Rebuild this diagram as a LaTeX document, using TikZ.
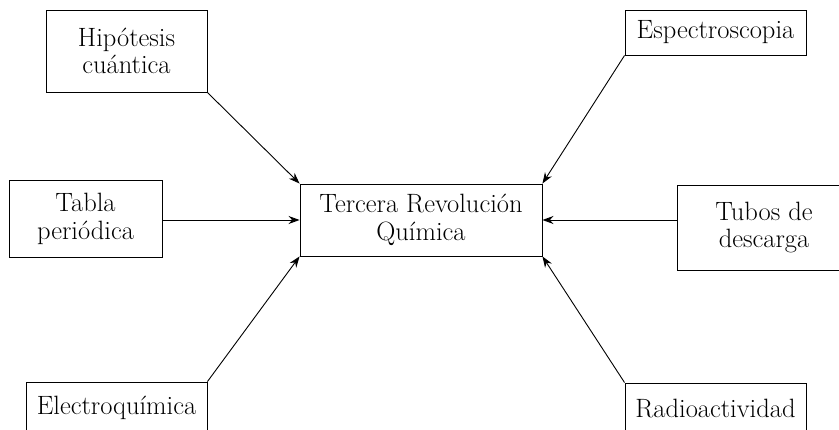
\documentclass[tikz,border=0pt]{standalone}
\usepackage{fontspec}
\usetikzlibrary{arrows.meta}
\begin{document}
\begin{tikzpicture}[x=1pt,y=-1pt,
  box/.style={draw,line width=0.9pt,rectangle,inner sep=0pt,align=center,
    font=\fontsize{26.5}{27.5}\selectfont},
  link/.style={line width=0.9pt,-{Stealth[length=11pt,width=8pt]}}]
\clip (0,0) rectangle (839,430);
\node[box,minimum width=161pt,minimum height=82pt] (hip) at (126.5,51) {Hipótesis\\cuántica};
\node[box,minimum width=181pt,minimum height=45pt] (esp) at (715.5,32.5) {Espectroscopia};
\node[box,minimum width=153pt,minimum height=77pt] (tab) at (85.5,219) {Tabla\\periódica};
\node[box,minimum width=242pt,minimum height=72pt] (c) at (421,220) {Tercera Revolución\\Química};
\node[box,minimum width=174pt,minimum height=85pt] (tub) at (764,227.5) {Tubos de\\descarga};
\node[box,minimum width=181pt,minimum height=52pt] (ele) at (116.5,408) {Electroquímica};
\node[box,minimum width=181pt,minimum height=52pt] (rad) at (715.5,409) {Radioactividad};
\draw[link] (hip.south east) -- (c.north west);
\draw[link] (tab.east |- c.west) -- (c.west);
\draw[link] (ele.north east) -- (c.south west);
\draw[link] (esp.south west) -- (c.north east);
\draw[link] (tub.west |- c.east) -- (c.east);
\draw[link] (rad.north west) -- (c.south east);
\end{tikzpicture}
\end{document}
